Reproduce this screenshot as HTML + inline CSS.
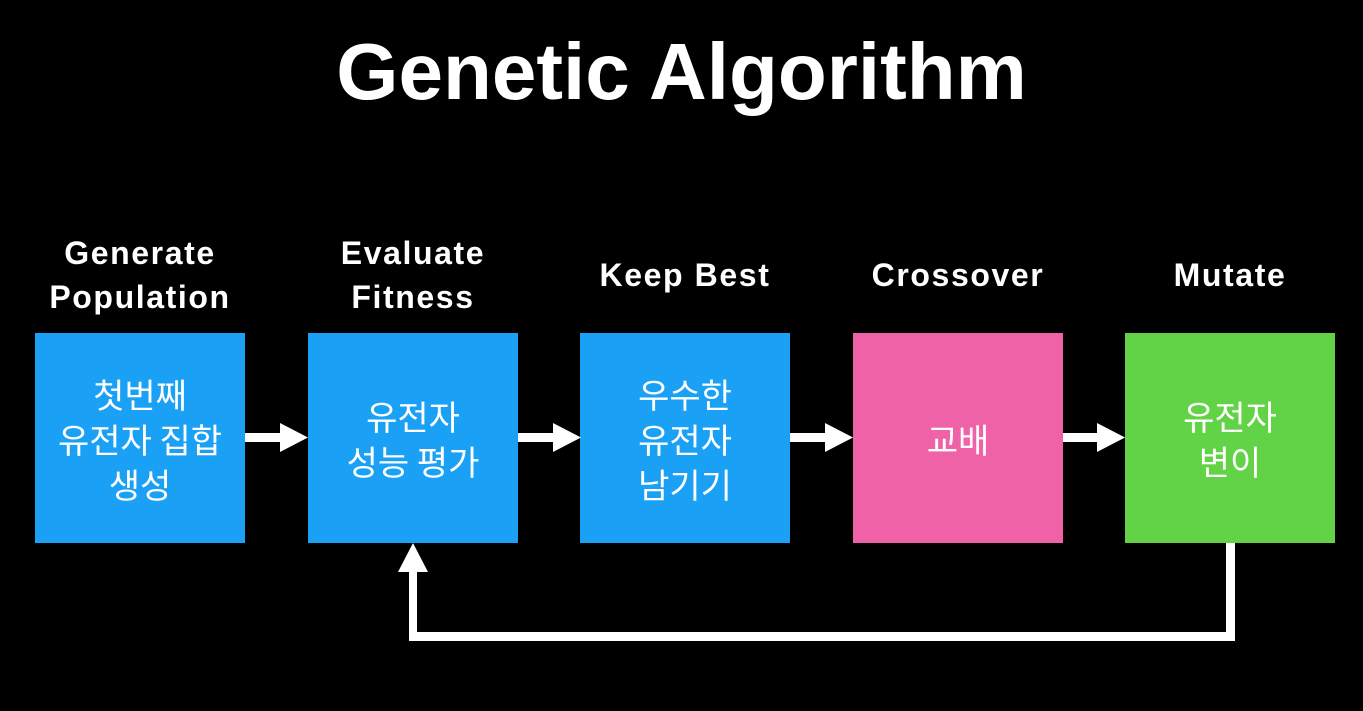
<!DOCTYPE html>
<html><head><meta charset="utf-8"><style>
body{margin:0;width:1363px;height:711px;background:#000;position:relative;overflow:hidden;font-family:"Liberation Sans","Noto Sans CJK KR",sans-serif;color:#fff}
.t{position:absolute;left:0;width:1363px;top:24px;text-align:center;font-size:80px;font-weight:bold;line-height:96px;letter-spacing:0px}
.l{position:absolute;width:300px;text-align:center;font-size:32px;font-weight:bold;line-height:44px;letter-spacing:1.6px}
.b{position:absolute;top:333px;width:210px;height:210px;display:flex;align-items:center;justify-content:center;text-align:center;font-size:34px;line-height:45px;font-family:"Noto Sans CJK KR",sans-serif;white-space:nowrap}
svg{position:absolute;left:0;top:0}
</style></head><body>
<div class="t">Genetic Algorithm</div>
<div class="l" style="left:-10px;top:231px">Generate<br>Population</div>
<div class="l" style="left:263px;top:231px">Evaluate<br>Fitness</div>
<div class="l" style="left:535px;top:253px">Keep Best</div>
<div class="l" style="left:808px;top:253px">Crossover</div>
<div class="l" style="left:1080px;top:253px">Mutate</div>
<div class="b" style="left:35px;background:#1aa0f5">첫번째<br>유전자 집합<br>생성</div>
<div class="b" style="left:308px;background:#1aa0f5">유전자<br>성능 평가</div>
<div class="b" style="left:580px;background:#1aa0f5">우수한<br>유전자<br>남기기</div>
<div class="b" style="left:853px;background:#f062a8">교배</div>
<div class="b" style="left:1125px;background:#62d346">유전자<br>변이</div>
<svg width="1363" height="711">
<g fill="#fff">
<rect x="245" y="433" width="38" height="9"/><polygon points="280,423 308,437.5 280,452"/>
<rect x="518" y="433" width="38" height="9"/><polygon points="553,423 581,437.5 553,452"/>
<rect x="790" y="433" width="38" height="9"/><polygon points="825,423 853,437.5 825,452"/>
<rect x="1063" y="433" width="37" height="9"/><polygon points="1097,423 1125,437.5 1097,452"/>
<rect x="1226" y="543" width="9" height="98"/>
<rect x="409" y="632" width="826" height="9"/>
<rect x="409" y="570" width="8" height="71"/>
<polygon points="413,543 398,572 428,572"/>
</g></svg>
</body></html>
